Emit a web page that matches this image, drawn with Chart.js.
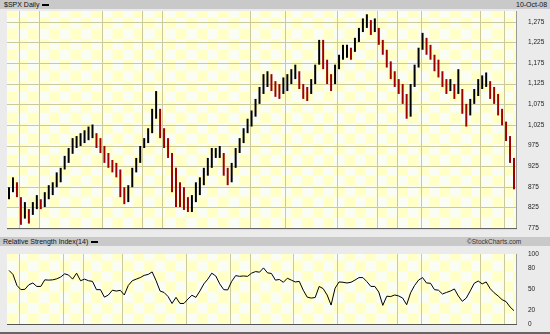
<!DOCTYPE html>
<html lang="en">
<head>
<meta charset="UTF-8">
<script src="https://cdn.jsdelivr.net/npm/chart.js"></script>
<title>Price with RSI</title>
<style>
  body { margin: 0; width: 550px; height: 334px; overflow: hidden; position: relative; background: #ebebeb; font-family: "Liberation Sans", Arial, sans-serif; }
  .bar { position: absolute; left: 0; width: 550px; background: #c9c9c9; font-size: 7px; line-height: 9px; color: #111; }
  .bar span { position: absolute; top: 0; white-space: nowrap; }
  .key { display: inline-block; width: 7px; height: 2px; background: #000; vertical-align: middle; margin-left: 3px; }
  canvas { position: absolute; left: 0; }
  #foot { position: absolute; left: 0; top: 332px; width: 550px; height: 2px; background: #666; }
</style>
</head>
<body>
  <div class="bar" style="top:0;height:9px">
    <span style="left:4px">$SPX Daily<i class="key"></i></span>
    <span style="left:516px">10-Oct-08</span>
  </div>
  <canvas id="price" width="550" height="236" style="top:0"></canvas>
  <div class="bar" style="top:237px;height:9px">
    <span style="left:3px">Relative Strength Index(14)<i class="key"></i></span>
    <span style="left:467px;font-size:6.5px;color:#333">©StockCharts.com</span>
  </div>
  <canvas id="rsi" width="550" height="88" style="top:246px"></canvas>
  <div id="foot"></div>

<script>
// bar ranges (one bar = about four trading days)
const priceHigh = [874,898,886,850,838,821,838,855,845,862,879,886,910,921,950,969,993,998,1005,1012,
  1021,1026,1005,993,974,957,940,933,917,874,879,921,945,974,993,1017,1064,1107,1064,1017,
  993,957,921,886,874,850,855,886,898,921,945,969,969,974,957,921,933,969,993,1017,
  1040,1060,1088,1117,1148,1155,1148,1131,1124,1140,1148,1160,1171,1155,1124,1117,1136,1171,1231,1231,
  1183,1148,1171,1195,1219,1219,1212,1236,1260,1283,1293,1279,1283,1260,1231,1207,1179,1155,1136,1124,
  1100,1124,1171,1212,1248,1236,1219,1195,1183,1155,1136,1136,1124,1160,1112,1076,1088,1112,1136,1145,
  1152,1131,1117,1100,1064,1033,998,945];
const priceLow = [845,862,850,783,798,786,807,821,821,826,845,855,874,886,917,933,955,969,974,981,
  988,993,969,957,933,921,910,898,850,833,838,874,910,933,969,981,1005,1040,993,969,
  945,862,826,826,819,814,814,838,855,879,902,921,945,945,902,879,886,921,957,981,
  1005,1021,1045,1076,1100,1117,1107,1093,1088,1100,1107,1124,1136,1112,1088,1083,1100,1124,1171,1160,
  1124,1107,1124,1160,1183,1188,1183,1202,1226,1250,1260,1243,1250,1219,1195,1164,1136,1117,1100,1076,
  1040,1045,1117,1164,1207,1195,1183,1155,1140,1117,1100,1107,1088,1100,1052,1021,1048,1076,1095,1112,
  1117,1088,1076,1048,1024,986,933,869];
const rsiValues = [76.5,70.7,55,49,49.5,56,58.5,53.6,53.6,63,62.6,63,64.4,67,71.6,69.8,64,72.5,61.7,64,
  61.7,60.8,49,49,38.3,41.4,48.2,47,48,41.4,55,61.7,64,66.2,69.4,70.7,74.3,61.7,47,45,
  39.2,29.3,38,29.3,29.3,35.6,41,38,47,57.2,64,72.5,68.5,57.2,49,48.6,60.8,69,68,68.5,
  68,72.5,74.8,73.9,80,73,72,62.6,63.5,59.5,65.3,62.6,60,60.8,48.2,38.3,37,37.8,53.6,50.5,
  41.4,27,51,60,59.5,58.5,59.5,62.6,66.2,66.2,60.4,53.6,53.6,45.5,26.6,39.6,39.2,41.4,40,37,
  27.5,44.6,55,62.6,66.2,58.5,58.1,49,48.2,42.8,45,47,50,40,32.4,37,47.3,58.1,61.3,57.2,
  60,50.5,44.6,40,34.7,32,24.3,19];

const monthLabels = ['N','Dec','07','F','Mar','A','May','Jun','J','Aug','S','Oct',
  'N','Dec','08','Feb','Mar','Apr','May','Jun','Jul','Aug','Sep','Oct'];
const monthStarts = [3.5,7.5,13.5,17.5,23.5,27.5,33.5,38.5,45.5,50.5,55.5,60.5,
  65.5,70.5,76.5,82.5,86.5,91.5,97.5,103.5,107.5,112.5,119.5,123.5];

const priceTicks = [775,800,825,850,875,900,925,950,975,1000,1025,1050,1075,1100,1125,1150,1175,1200,1225,1250,1275,1300];
const priceGrid = [825,875,925,975,1025,1075,1125,1175,1225,1275];
const priceVLines = [2.5,7.5,23.5,33.5,38.5,60.5,69.5,82.5,92.5,97.5,103.5,118.5,124.5];
const rsiTicks = [0,20,50,80,100];
const rsiVLines = [2.5,13.5,18.5,28.5,44.5,55.5,60.5,71.5,82.5,97.5,103.5,118.5,124.5];

const N = priceHigh.length;
const barColors = priceHigh.map((h, i) => {
  if (i === 0) return '#000000';
  return (h + priceLow[i]) < (priceHigh[i - 1] + priceLow[i - 1]) ? '#9c0000' : '#000000';
});

// checkered panel background, grid lines and frame
const panel = {
  id: 'panel',
  beforeDatasetsDraw(chart, args, o) {
    const { ctx, chartArea: a, scales: { x, y } } = chart;
    const w = a.right - a.left, h = a.bottom - a.top;
    ctx.save();
    ctx.beginPath();
    ctx.rect(a.left, a.top, w, h);
    ctx.clip();
    ctx.fillStyle = '#fafdf4';
    ctx.fillRect(a.left, a.top, w, h);
    const rows = Math.ceil(h / o.cellH - 0.01);
    ctx.fillStyle = '#ffffc6';
    for (let r = 0; r < rows; r++) {
      for (let c = 0; a.left + c * o.cellW < a.right; c++) {
        if ((r + c) % 2 === (rows - 1) % 2) {
          ctx.fillRect(a.left + c * o.cellW, a.bottom - (r + 1) * o.cellH, o.cellW, o.cellH);
        }
      }
    }
    ctx.strokeStyle = '#cbca98';
    ctx.lineWidth = 1;
    ctx.beginPath();
    (o.hlines || []).forEach(v => {
      const py = Math.round(y.getPixelForValue(v)) + 0.5;
      ctx.moveTo(a.left, py); ctx.lineTo(a.right, py);
    });
    (o.vlines || []).forEach(v => {
      const px = Math.round(x.getPixelForValue(v)) + 0.5;
      ctx.moveTo(px, a.top); ctx.lineTo(px, a.bottom);
    });
    ctx.stroke();
    ctx.restore();
  },
  afterDatasetsDraw(chart) {
    const { ctx, chartArea: a } = chart;
    ctx.save();
    ctx.strokeStyle = '#9a9a9a';
    ctx.lineWidth = 1;
    ctx.beginPath();
    ctx.moveTo(a.right + 0.5, a.top); ctx.lineTo(a.right + 0.5, a.bottom);
    ctx.stroke();
    ctx.strokeStyle = '#555';
    ctx.beginPath();
    ctx.moveTo(a.left, a.bottom + 0.5); ctx.lineTo(a.right + 1, a.bottom + 0.5);
    ctx.stroke();
    ctx.restore();
  }
};

const tickFont = { size: 6.5, family: 'Liberation Sans' };

new Chart(document.getElementById('price'), {
  type: 'bar',
  data: {
    datasets: [{
      data: priceHigh.map((hi, i) => ({ x: i, y: [priceLow[i], hi] })),
      backgroundColor: barColors,
      barPercentage: 0.5,
      categoryPercentage: 1
    }]
  },
  options: {
    responsive: false,
    animation: false,
    devicePixelRatio: 1,
    events: [],
    layout: { padding: { left: 7, top: 11, right: 0, bottom: 4 } },
    plugins: {
      legend: { display: false },
      tooltip: { enabled: false },
      panel: { cellH: 10.5, cellW: 10.55, hlines: priceGrid, vlines: priceVLines }
    },
    scales: {
      x: { type: 'linear', min: -0.5, max: N - 0.5, offset: false, display: false },
      y: {
        position: 'right', min: 775, max: 1301,
        afterFit: s => { s.width = 34; },
        afterBuildTicks: s => { s.ticks = priceTicks.map(v => ({ value: v })); },
        grid: { display: false }, border: { display: false },
        ticks: { font: tickFont, color: '#222', padding: 4, callback: v => v.toLocaleString('en-US') }
      }
    }
  },
  plugins: [panel]
});

new Chart(document.getElementById('rsi'), {
  type: 'line',
  data: {
    datasets: [{
      data: rsiValues.map((v, i) => ({ x: i, y: v })),
      borderColor: '#000',
      borderWidth: 1,
      pointRadius: 0,
      tension: 0
    }]
  },
  options: {
    responsive: false,
    animation: false,
    devicePixelRatio: 1,
    events: [],
    layout: { padding: { left: 7, top: 4, right: 0, bottom: 0 } },
    plugins: {
      legend: { display: false },
      tooltip: { enabled: false },
      panel: { cellH: 10.57, cellW: 10.55, hlines: [], vlines: rsiVLines }
    },
    scales: {
      x: {
        type: 'linear', min: -0.5, max: N - 0.5, offset: false,
        afterFit: s => { s.height = 10; },
        afterBuildTicks: s => { s.ticks = monthStarts.map(v => ({ value: v })); },
        grid: { display: false }, border: { display: false },
        ticks: { font: { size: 6.5, family: 'Liberation Sans' }, color: '#222', padding: 1, maxRotation: 0, autoSkip: false,
          callback: (v, i) => monthLabels[i] }
      },
      y: {
        position: 'right', min: 0, max: 100,
        afterFit: s => { s.width = 34; },
        afterBuildTicks: s => { s.ticks = rsiTicks.map(v => ({ value: v })); },
        grid: { display: false }, border: { display: false },
        ticks: { font: tickFont, color: '#222', padding: 4 }
      }
    }
  },
  plugins: [panel]
});
</script>
</body>
</html>
